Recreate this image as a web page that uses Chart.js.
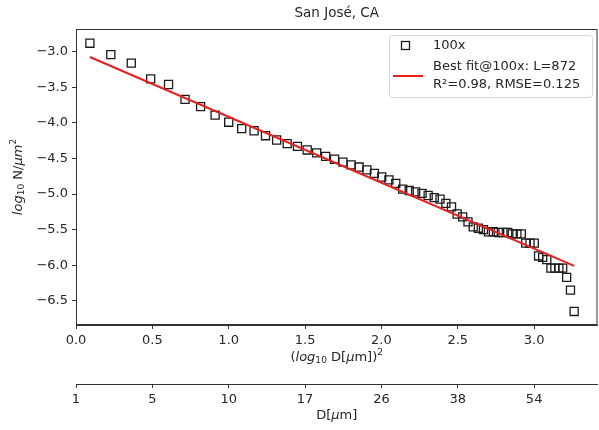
<!DOCTYPE html>
<html><head><meta charset="utf-8">
<script src="https://cdn.jsdelivr.net/npm/chart.js@4.4.0/dist/chart.umd.min.js"></script>
<style>html,body{margin:0;padding:0;background:#fff}#wrap{width:599px;height:430px}</style>
</head><body><div id="wrap"><canvas id="c" width="599" height="430"></canvas></div>
<script>
// ---------- data ----------
const chartTitle = 'San José, CA';
// particle diameter D [µm] of each bin
const sizeD = [2,3,4,5,6,7,8,9,10,11,12,13,14,15,16,17,18,19,20,21,22,23,24,25,26,27,28,29,30,31,32,33,34,35,36,37,38,39,40,41,42,43,44,45,46,47,48,49,50,51,52,53,54,55,56,57,58,59,60,61,62,63,64];
// x = (log10 D)^2
const xSq = [0.091,0.228,0.362,0.489,0.606,0.714,0.816,0.911,1.000,1.085,1.166,1.241,1.314,1.383,1.450,1.514,1.576,1.635,1.693,1.748,1.802,1.854,1.905,1.954,2.002,2.049,2.094,2.139,2.182,2.224,2.266,2.306,2.346,2.384,2.422,2.459,2.496,2.532,2.567,2.601,2.635,2.668,2.701,2.733,2.765,2.796,2.827,2.857,2.887,2.916,2.945,2.973,3.001,3.029,3.056,3.083,3.110,3.136,3.162,3.187,3.213,3.238,3.262];
// y = log10 N/µm^2 (100x)
const logN = [-2.88,-3.04,-3.16,-3.38,-3.46,-3.67,-3.77,-3.89,-3.99,-4.08,-4.11,-4.18,-4.24,-4.29,-4.33,-4.38,-4.42,-4.47,-4.51,-4.55,-4.59,-4.62,-4.66,-4.71,-4.76,-4.80,-4.85,-4.93,-4.95,-4.97,-4.99,-5.02,-5.05,-5.07,-5.13,-5.18,-5.28,-5.32,-5.39,-5.46,-5.48,-5.50,-5.53,-5.53,-5.54,-5.54,-5.54,-5.56,-5.56,-5.56,-5.69,-5.69,-5.69,-5.87,-5.89,-5.92,-6.04,-6.04,-6.04,-6.04,-6.17,-6.35,-6.65];
// best-fit line end points
const fitX = [0.091, 3.262];
const fitY = [-3.073, -6.008];
// ticks
const xTicks = [0.0,0.5,1.0,1.5,2.0,2.5,3.0];
const dTickLabels = ['1','5','10','17','26','38','54'];
const yTicks = [-3.0,-3.5,-4.0,-4.5,-5.0,-5.5,-6.0,-6.5];
const seriesLabel = '100x';
const fitLabelLines = ['Best fit@100x: L=872','R²=0.98, RMSE=0.125'];
const yTitleParts = [{t:'log',it:true},{t:'10',sub:true},{t:' N/'},{t:'μm',it:true},{t:'2',sup:true}];
const xTitleParts = [{t:'('},{t:'log',it:true},{t:'10',sub:true},{t:' D['},{t:'μ',it:true},{t:'m])'},{t:'2',sup:true}];
const x2TitleParts = [{t:'D['},{t:'μ',it:true},{t:'m]'}];

// ---------- drawing ----------
const FAM = '"DejaVu Sans", sans-serif';
const TXT = '#262626';
const AX = '#333333';
Chart.defaults.font.family = FAM;
Chart.defaults.font.size = 13;
Chart.defaults.color = TXT;

function richText(ctx, parts, cx, cy, size, rot) {
  ctx.save();
  ctx.translate(cx, cy); if (rot) ctx.rotate(rot);
  const f = p => (p.it ? 'italic ' : '') + ((p.sub || p.sup) ? size * 0.7 : size) + 'px ' + FAM;
  let w = 0;
  for (const p of parts) { ctx.font = f(p); w += ctx.measureText(p.t).width; }
  let x = -w / 2;
  ctx.textAlign = 'left'; ctx.textBaseline = 'alphabetic'; ctx.fillStyle = TXT;
  const base = size * 0.36;
  for (const p of parts) {
    ctx.font = f(p);
    let dy = base;
    if (p.sub) dy += size * 0.2;
    if (p.sup) dy -= size * 0.42;
    ctx.fillText(p.t, x, dy);
    x += ctx.measureText(p.t).width;
  }
  ctx.restore();
}

const decor = {
  id: 'decor',
  afterDraw(chart) {
    const {ctx, chartArea: a} = chart;
    ctx.save();
    // frame
    ctx.strokeStyle = AX; ctx.lineWidth = 1;
    ctx.strokeRect(a.left + 0.5, a.top + 0.5, a.right - a.left - 1, a.bottom - a.top - 1);
    // title
    ctx.fillStyle = TXT; ctx.font = '13.5px ' + FAM; ctx.textAlign = 'center'; ctx.textBaseline = 'middle';
    const cx = (a.left + a.right) / 2;
    ctx.fillText(chartTitle, cx, 13);
    // axis titles
    richText(ctx, yTitleParts, 17, (a.top + a.bottom) / 2, 13, -Math.PI / 2);
    richText(ctx, xTitleParts, cx, 356, 13, 0);
    richText(ctx, x2TitleParts, cx, 414, 13, 0);
    // legend
    const L = 389, T = 35, W = 203, H = 62;
    ctx.beginPath();
    ctx.roundRect(L + 0.5, T + 0.5, W, H, 3);
    ctx.fillStyle = 'rgba(255,255,255,0.85)'; ctx.fill();
    ctx.strokeStyle = '#d6d6d6'; ctx.lineWidth = 1; ctx.stroke();
    const ds0 = chart.data.datasets[0], ds1 = chart.data.datasets[1];
    ctx.strokeStyle = ds0.borderColor; ctx.lineWidth = ds0.borderWidth;
    ctx.strokeRect(401.5, 41.5, 8, 8);
    ctx.strokeStyle = ds1.borderColor; ctx.lineWidth = ds1.borderWidth;
    ctx.beginPath(); ctx.moveTo(393, 76); ctx.lineTo(423, 76); ctx.stroke();
    ctx.fillStyle = TXT; ctx.font = '13px ' + FAM; ctx.textAlign = 'left'; ctx.textBaseline = 'middle';
    ctx.fillText(seriesLabel, 433, 46);
    ctx.fillText(fitLabelLines[0], 433, 67);
    ctx.fillText(fitLabelLines[1], 433, 85);
    ctx.restore();
  }
};

const fmt = v => v.toFixed(1).replace('-', '\u2212');
const axisCommon = {
  grid: {drawOnChartArea: false, drawTicks: true, tickLength: 4, color: AX, tickColor: AX, tickWidth: 1},
  border: {display: true, color: AX, width: 1},
  ticks: {padding: 3.5, color: TXT, font: {size: 13}, maxRotation: 0, autoSkip: false}
};

new Chart(document.getElementById('c'), {
  type: 'scatter',
  data: {
    datasets: [
      {
        label: seriesLabel,
        data: xSq.map((x, i) => ({x: x, y: logN[i]})),
        pointStyle: 'rect', pointRadius: 5.7, pointHoverRadius: 5.7,
        borderColor: '#1a1a1a', borderWidth: 1.3, backgroundColor: 'rgba(0,0,0,0)',
        showLine: false, order: 2
      },
      {
        label: fitLabelLines.join(' '),
        data: fitX.map((x, i) => ({x: x, y: fitY[i]})),
        showLine: true, pointRadius: 0, borderColor: '#ee1c1c', borderWidth: 2,
        backgroundColor: '#ee1c1c', order: 1
      }
    ]
  },
  options: {
    responsive: false, animation: false, devicePixelRatio: 1,
    layout: {autoPadding: false, padding: {top: 29, right: 1.5, left: 0, bottom: 0}},
    plugins: {legend: {display: false}, title: {display: false}, tooltip: {enabled: false}},
    scales: {
      x: Object.assign({}, axisCommon, {
        type: 'linear', position: 'bottom', weight: 0, min: 0, max: 3.415,
        afterBuildTicks: s => { s.ticks = xTicks.map(v => ({value: v})); },
        afterFit: s => { s.height = 59; },
        ticks: Object.assign({}, axisCommon.ticks, {callback: v => v.toFixed(1)}),
        title: {display: false}
      }),
      x2: Object.assign({}, axisCommon, {
        type: 'linear', axis: 'x', position: 'bottom', weight: 10, min: 0, max: 3.415,
        afterBuildTicks: s => { s.ticks = xTicks.map(v => ({value: v})); },
        afterFit: s => { s.height = 46; },
        ticks: Object.assign({}, axisCommon.ticks, {callback: (v, i) => dTickLabels[i]}),
        title: {display: false}
      }),
      y: Object.assign({}, axisCommon, {
        type: 'linear', position: 'left', min: -6.84, max: -2.68,
        afterBuildTicks: s => { s.ticks = yTicks.map(v => ({value: v})); },
        afterFit: s => { s.width = 76; },
        ticks: Object.assign({}, axisCommon.ticks, {padding: 4, callback: v => fmt(v)}),
        title: {display: false}
      })
    }
  },
  plugins: [decor]
});
</script>
</body></html>
